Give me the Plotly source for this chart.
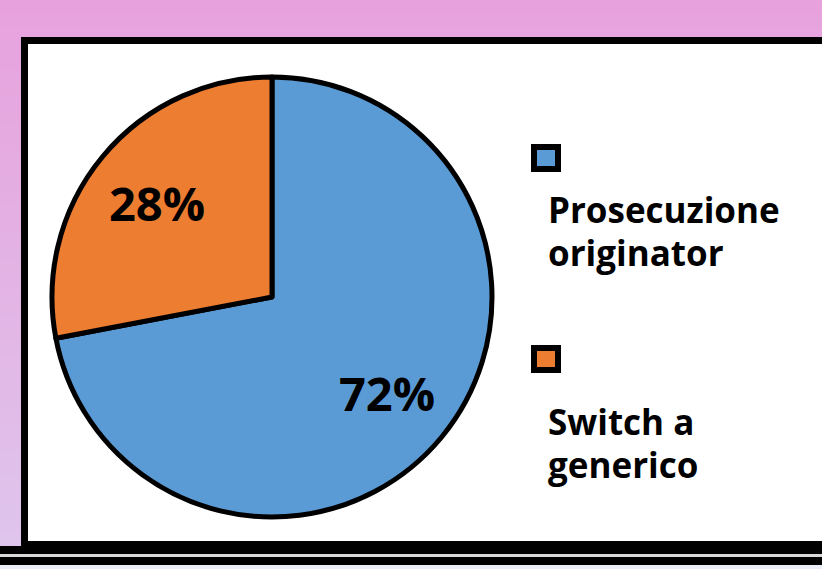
import math
import plotly.graph_objects as go

# ---- data ----
categories = ["Prosecuzione originator", "Switch a generico"]
legend_lines = [["Prosecuzione", "originator"], ["Switch a", "generico"]]
values = [72, 28]
colors = ["#5B9BD5", "#ED7D31"]

W, H = 822, 569


def fx(x):
    return x / W


def fy(y):
    return 1 - y / H


def mix(c1, c2, t):
    a = [int(c1[i:i + 2], 16) for i in (1, 3, 5)]
    b = [int(c2[i:i + 2], 16) for i in (1, 3, 5)]
    return "#" + "".join(f"{round(a[k] + (b[k] - a[k]) * t):02x}" for k in range(3))


# pie geometry (pixels)
CX, CY, R = 272, 297, 220

fig = go.Figure(
    go.Pie(
        labels=categories,
        values=values,
        sort=False,
        direction="clockwise",
        rotation=0,
        marker=dict(colors=colors, line=dict(color="black", width=5)),
        textinfo="none",
        domain=dict(x=[fx(CX - R), fx(CX + R)], y=[fy(CY + R), fy(CY - R)]),
        showlegend=False,
        hoverinfo="label+percent",
    )
)

shapes = []
# gradient background
N = 40
top_c, bot_c = "#E7A2DD", "#DFC4EC"
for i in range(N):
    y0 = i * 546 / N
    y1 = (i + 1) * 546 / N + 0.5
    shapes.append(dict(type="rect", xref="paper", yref="paper", x0=0, x1=1.05,
                       y0=fy(y1), y1=fy(y0), fillcolor=mix(top_c, bot_c, i / (N - 1)),
                       line=dict(width=0), layer="below"))
# white panel with black border
shapes.append(dict(type="rect", xref="paper", yref="paper", x0=fx(24.5), x1=1.1,
                   y0=fy(545), y1=fy(40.5), fillcolor="white",
                   line=dict(color="black", width=7), layer="below"))
# bottom bands
shapes.append(dict(type="rect", xref="paper", yref="paper", x0=fx(21), x1=1.1,
                   y0=fy(554), y1=fy(541), fillcolor="black", line=dict(width=0), layer="below"))
shapes.append(dict(type="rect", xref="paper", yref="paper", x0=0, x1=fx(22),
                   y0=fy(554), y1=fy(546), fillcolor="black", line=dict(width=0), layer="below"))
shapes.append(dict(type="rect", xref="paper", yref="paper", x0=0, x1=1.1,
                   y0=fy(557), y1=fy(554), fillcolor="#D8D8D8", line=dict(width=0), layer="below"))
shapes.append(dict(type="rect", xref="paper", yref="paper", x0=0, x1=1.1,
                   y0=fy(565), y1=fy(557), fillcolor="black", line=dict(width=0), layer="below"))
shapes.append(dict(type="rect", xref="paper", yref="paper", x0=0, x1=1.1,
                   y0=fy(570), y1=fy(565), fillcolor="#E9EDF5", line=dict(width=0), layer="below"))

annotations = []
# percentage labels placed along each slice's mid-angle
total = sum(values)
cum = 0
for v in values:
    mid = (cum + v / 2) / total * 2 * math.pi  # clockwise from 12 o'clock
    cum += v
    d = 0.68 * R
    x = CX + d * math.sin(mid)
    y = CY - d * math.cos(mid) + 1
    annotations.append(dict(text=f"{round(100 * v / total)}%", xref="paper", yref="paper",
                            x=fx(x), y=fy(y), xanchor="center", yanchor="middle",
                            showarrow=False,
                            font=dict(family="Open Sans", size=47, color="black", weight="bold")))

# custom legend
sq_centers = [158, 359]
baselines = [[223, 266], [435, 478]]
for lines, col, sc, bls in zip(legend_lines, colors, sq_centers, baselines):
    shapes.append(dict(type="rect", xref="paper", yref="paper", x0=fx(534), x1=fx(558),
                       y0=fy(sc + 11), y1=fy(sc - 11), fillcolor=col,
                       line=dict(color="black", width=6)))
    for line, bl in zip(lines, bls):
        annotations.append(dict(text=line, xref="paper", yref="paper", x=fx(546),
                                y=fy(bl - 13.6), xanchor="left", yanchor="middle",
                                align="left", showarrow=False,
                                font=dict(family="Open Sans", size=35, color="black",
                                          weight="bold")))

fig.update_layout(
    width=W, height=H,
    margin=dict(l=0, r=0, t=0, b=0),
    paper_bgcolor=top_c,
    shapes=shapes,
    annotations=annotations,
)

fig.write_html("out.html")
